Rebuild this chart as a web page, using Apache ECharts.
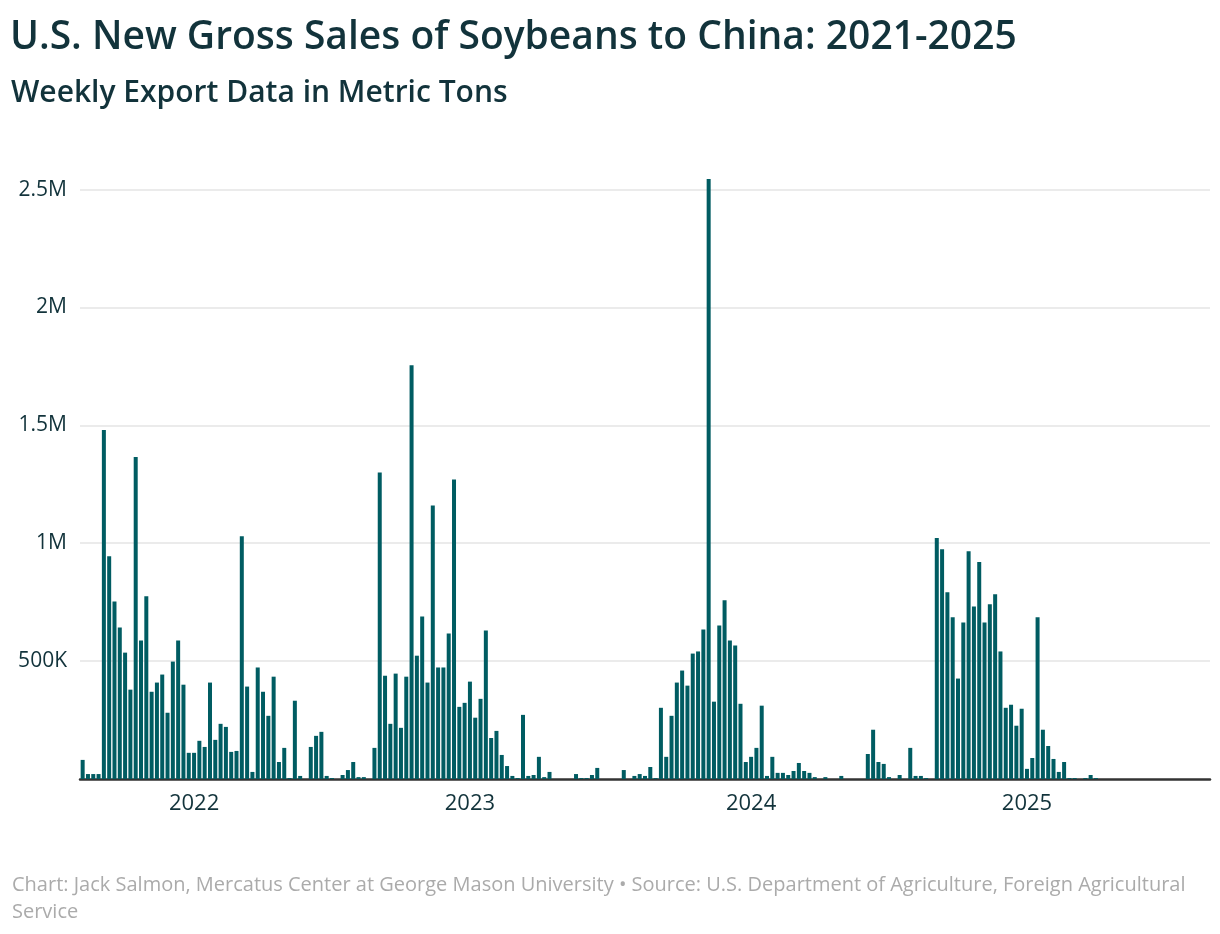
<!DOCTYPE html>
<html>
<head>
<meta charset="utf-8">
<script src="https://cdn.jsdelivr.net/npm/echarts@6/dist/echarts.min.js"></script>
<style>
html,body{margin:0;padding:0;background:#fff;}
#chart{width:1220px;height:934px;}
</style>
</head>
<body>
<div id="chart"></div>
<script>
// Weekly categories: week-ending dates (Thursdays), first week and number of weeks
const firstWeek = '2021-08-05';
const weekCount = 213;
// Year tick labels shown on the x axis
const yearLabels = ['2022', '2023', '2024', '2025'];
// Y axis tick labels
const yTickLabels = ['0', '500K', '1M', '1.5M', '2M', '2.5M'];

// New gross sales to China, thousand metric tons, one value per week
const sales2021_22 = [
  81, 21, 21, 21, 1480, 945, 753, 643, 536, 379,
  1366, 587, 775, 370, 409, 443, 281, 498, 587, 400,
  111, 111, 162, 136, 409, 166, 234, 221, 115, 119,
  1030, 392, 30, 473, 370, 268, 434, 72, 132, 4,
  332, 13, 0, 136, 183, 200, 13, 4, 0, 17,
  38, 72, 8, 8, 0
];
const sales2022_23 = [
  132, 1300, 438, 234, 447, 217, 434, 1755, 523, 689,
  409, 1160, 473, 473, 617, 1270, 306, 323, 413, 260,
  340, 630, 174, 204, 102, 55, 13, 4, 272, 13,
  17, 94, 8, 30, 0, 0, 0, 0, 21, 4,
  4, 17, 47, 0, 0, 0, 0, 38, 0, 13,
  21, 13, 51, 4
];
const sales2023_24 = [
  302, 94, 268, 409, 460, 396, 532, 541, 634, 2545,
  328, 651, 758, 587, 566, 319, 72, 94, 132, 311,
  13, 94, 26, 26, 17, 34, 68, 34, 26, 8,
  0, 8, 0, 0, 13, 0, 0, 0, 0, 106,
  209, 72, 64, 8, 0, 17, 0, 132, 13, 13,
  4, 0
];
const sales2024_25 = [
  1022, 975, 792, 686, 426, 664, 966, 732, 920, 664,
  741, 784, 541, 302, 315, 226, 298, 43, 89, 686,
  209, 140, 85, 30, 72, 4, 4, 0, 4, 17,
  4, 0, 0, 0, 0, 0, 0, 0, 0, 0,
  0, 0, 0, 0, 0, 0, 0, 0, 0, 0,
  0, 0
];

const salesTons = [].concat(sales2021_22, sales2022_23, sales2023_24, sales2024_25)
  .map(v => v * 1000);

// build week categories
const DAY = 86400000;
const start = Date.parse(firstWeek + 'T00:00:00Z');
const weeks = [];
for (let i = 0; i < weekCount; i++) {
  weeks.push(new Date(start + i * 7 * DAY).toISOString().slice(0, 10));
}
// index of the week closest to Jan 1 of each labelled year
const yearIndex = {};
yearLabels.forEach(y => {
  const jan1 = Date.parse(y + '-01-01T00:00:00Z');
  let best = 0, bestD = Infinity;
  weeks.forEach((w, i) => {
    const d = Math.abs(Date.parse(w + 'T00:00:00Z') - jan1);
    if (d < bestD) { bestD = d; best = i; }
  });
  yearIndex[best] = y;
});

const textDark = '#12333b';
const chart = echarts.init(document.getElementById('chart'));
chart.setOption({
  backgroundColor: '#ffffff',
  animation: false,
  title: [
    {
      text: 'U.S. New Gross Sales of Soybeans to China: 2021-2025',
      left: 5, top: 13,
      textStyle: { fontFamily: 'Open Sans', fontSize: 39, fontWeight: 600, color: textDark }
    },
    {
      text: 'Weekly Export Data in Metric Tons',
      left: 6, top: 73,
      textStyle: { fontFamily: 'Open Sans', fontSize: 30, fontWeight: 600, color: textDark }
    },
    {
      text: 'Chart: Jack Salmon, Mercatus Center at George Mason University \u2022 Source: U.S. Department of Agriculture, Foreign Agricultural\nService',
      left: 7, top: 867,
      textStyle: { fontFamily: 'Open Sans', fontSize: 20, fontWeight: 400, color: '#ababab', lineHeight: 27 }
    }
  ],
  grid: { left: 80, right: 10, top: 166, bottom: 155, containLabel: false },
  xAxis: {
    type: 'category',
    data: weeks,
    boundaryGap: true,
    axisLine: { show: true, lineStyle: { color: '#333333', width: 2.5 } },
    axisTick: { show: false },
    splitLine: { show: false },
    axisLabel: {
      interval: (i) => yearIndex[i] !== undefined,
      formatter: (v, i) => yearIndex[i] || '',
      margin: 14,
      fontFamily: 'Open Sans', fontSize: 22, fontWeight: 500, color: textDark
    }
  },
  yAxis: {
    type: 'value',
    min: 0, max: 2600000, interval: 500000,
    axisLine: { show: false },
    axisTick: { show: false },
    splitLine: { show: true, showMinLine: false, showMaxLine: false, lineStyle: { color: '#e5e5e5', width: 1.5 } },
    axisLabel: {
      showMaxLabel: false,
      showMinLabel: false,
      margin: 13,
      fontFamily: 'Open Sans', fontSize: 21, fontWeight: 400, color: textDark,
      formatter: (v) => {
        const k = Math.round(v / 500000);
        return (v % 500000 === 0 && yTickLabels[k] !== undefined) ? yTickLabels[k] : '';
      }
    }
  },
  series: [{
    type: 'bar',
    data: salesTons,
    barWidth: 4,
    itemStyle: { color: '#005c62' }
  }]
});
</script>
</body>
</html>
